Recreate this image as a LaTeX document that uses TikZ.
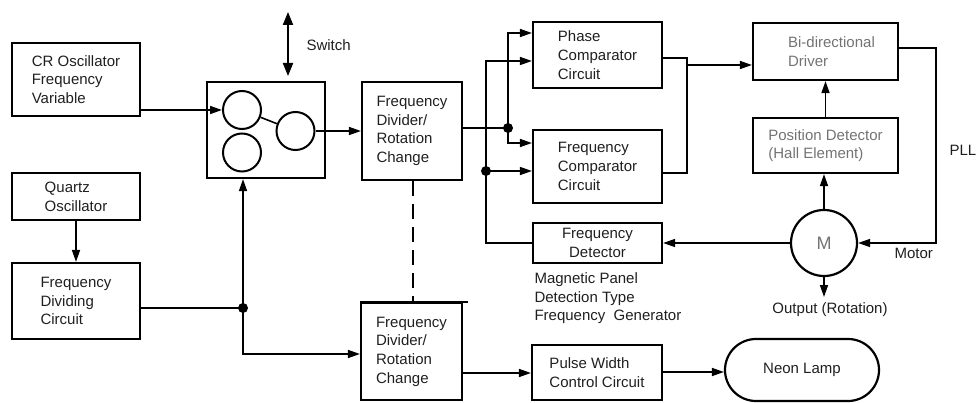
\documentclass[tikz,border=0pt]{standalone}
\usepackage{fontspec}
\setmainfont{Liberation Sans}
\usetikzlibrary{arrows.meta,shapes.misc,calc}
\begin{document}
\begin{tikzpicture}[x=1pt,y=-1pt,
  txt/.style={font=\fontsize{15}{18.7}\selectfont, text=black!88},
  box/.style={txt, draw, line width=2.2pt, inner sep=0pt, align=left},
  ring/.style={draw, circle, line width=2pt, minimum size=38pt, inner sep=0pt},
  wire/.style={line width=1.6pt},
  arr/.style={wire, -{Triangle[length=12pt,width=8pt]}},
  dot/.style={circle, fill=black, minimum size=10pt, inner sep=0pt},
  greytext/.style={text=black!55}]
\useasboundingbox (0,0) rectangle (976,403);
% boxes
\node[box, minimum width=128pt, minimum height=73pt] (cr) at (76,79.5) {CR Oscillator\\Frequency\\Variable};
\node[box, minimum width=128pt, minimum height=47pt] (qz) at (76,196.5) {Quartz\\Oscillator};
\node[box, minimum width=128pt, minimum height=76pt] (fdc) at (76,301) {Frequency\\Dividing\\Circuit};
\node[box, minimum width=118pt, minimum height=96pt] (sw) at (266,130) {};
\node[ring] (c1) at (242,110) {};
\node[ring] (c2) at (295.5,131) {};
\node[ring] (c3) at (242,152.5) {};
\node[box, minimum width=100pt, minimum height=98pt] (fd1) at (412,131) {Frequency\\Divider/\\Rotation\\Change};
\node[box, minimum width=101pt, minimum height=97pt] (fd2) at (411.5,351.5) {Frequency\\Divider/\\Rotation\\Change};
\node[box, minimum width=129pt, minimum height=66pt] (pc) at (597.5,55) {Phase\\Comparator\\Circuit};
\node[box, minimum width=129pt, minimum height=73pt] (fc) at (597.5,166.5) {Frequency\\Comparator\\Circuit};
\node[box, minimum width=129pt, minimum height=40pt, align=center] (fdet) at (597.5,243) {Frequency\\Detector};
\node[box, minimum width=130pt, minimum height=55pt] (pw) at (597,372.5) {Pulse Width\\Control Circuit};
\node[box, greytext, minimum width=145pt, minimum height=57pt] (bdd) at (825.5,51.5) {\hspace*{12pt}Bi-directional\\\hspace*{12pt}Driver};
\node[box, greytext, minimum width=145pt, minimum height=55pt] (pos) at (825.5,145.5) {Position Detector\\(Hall Element)};
\node[txt, greytext, draw, circle, line width=2.2pt, minimum size=66pt, inner sep=0pt, font=\fontsize{18}{20}\selectfont] (m) at (824,243) {M};
\node[txt, draw, rounded rectangle, line width=2.2pt, minimum width=154pt, minimum height=62pt, inner sep=0pt] (neon) at (802,370) {Neon Lamp};
% extended thick top edge of lower divider
\draw[line width=2.8pt] (fd2.north west) -- ($(fd2.north east)+(5,0)$);
% labels
\node[txt, anchor=west] (swl) at (303,45) {Switch};
\node[txt, anchor=west] (pll) at (946,150) {PLL};
\node[txt, anchor=west] (motl) at (891,253) {Motor};
\node[txt, anchor=north west, align=left] (mag) at (531,269) {Magnetic Panel\\Detection Type\\Frequency\ \ Generator};
% switch arrow
\coordinate (swT) at (288,12);
\coordinate (swB) at (288,76);
\draw[line width=2pt, {Triangle[length=13pt,width=10pt]}-{Triangle[length=13pt,width=10pt]}] (swT) -- (swB);
% switch connections
\draw[arr] (c1.west -| cr.east) -- (c1.west);
\draw[wire] (c1) -- (c2);
\draw[arr] (c2.east) -- (c2.east -| fd1.west);
\draw[arr] (qz.south) -- (fdc.north);
\coordinate (j1) at (243,308);
\draw[wire] (fdc.east |- j1) -- (j1);
\draw[arr] (j1) -- (j1 |- sw.south);
\draw[arr] (j1) -- (243,354) -- (243,354 -| fd2.west);
\node[dot] (d1) at (j1) {};
% divider to comparators
\coordinate (j2) at (508,128);
\draw[wire] (fd1.east |- j2) -- (j2);
\draw[arr] (j2) -- (508,33) -- (508,33 -| pc.west);
\draw[arr] (j2) -- (508,143) -- (508,143 -| fc.west);
\node[dot] (d2) at (j2) {};
\coordinate (j3) at (486,171);
\draw[arr] (fdet.west) -- (486,243) -- (486,61) -- (486,61 -| pc.west);
\draw[arr] (j3) -- (j3 -| fc.west);
\node[dot] (d3) at (j3) {};
% dashed link
\draw[line width=2.2pt, dash pattern=on 15pt off 8pt] (fd1.south -| 413,0) -- (fd2.north -| 413,0);
% comparators to driver
\draw[wire] (pc.east |- 0,58) -- (687,58) -- (687,173) -- (fc.east |- 0,173);
\draw[arr] (687,65) -- (687,65 -| bdd.west);
% driver loop
\draw[arr] (pos.north) -- (pos.north |- bdd.south);
\draw[arr] (m.north) -- (m.north |- pos.south);
\draw[arr] (bdd.east |- 0,48) -- (936,48) -- (936,243) -- (m.east);
\draw[arr] (m.west) -- (m.west -| fdet.east);
\coordinate (outp) at (824,297);
\draw[arr] (m.south) -- (outp);
\node[txt] (outl) at (830,310) {Output (Rotation)};
% lower chain
\draw[arr] (fd2.east |- 0,373) -- (pw.west |- 0,373);
\draw[arr] (pw.east |- 0,372) -- (neon.west |- 0,372);
\end{tikzpicture}
\end{document}
